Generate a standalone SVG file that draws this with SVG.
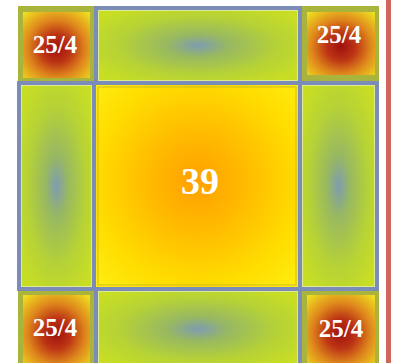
<svg xmlns="http://www.w3.org/2000/svg" width="401" height="363" viewBox="0 0 401 363">
  <defs>
    <radialGradient id="edge" cx="0.5" cy="0.5" r="0.6">
      <stop offset="0" stop-color="#7e9cb0"/>
      <stop offset="0.25" stop-color="#98b862"/>
      <stop offset="0.65" stop-color="#b6d236"/>
      <stop offset="1" stop-color="#c8de24"/>
    </radialGradient>
    <radialGradient id="corner" cx="0.5" cy="0.55" r="0.72">
      <stop offset="0" stop-color="#a0100e"/>
      <stop offset="0.3" stop-color="#bc3414"/>
      <stop offset="0.6" stop-color="#de861c"/>
      <stop offset="1" stop-color="#f0e020"/>
    </radialGradient>
    <radialGradient id="center" cx="0.5" cy="0.48" r="0.7">
      <stop offset="0" stop-color="#ffa000"/>
      <stop offset="0.35" stop-color="#ffbc00"/>
      <stop offset="0.7" stop-color="#ffdc00"/>
      <stop offset="1" stop-color="#ffee10"/>
    </radialGradient>
  </defs>
  <style>
    .frame { stroke: #7b8cb8; stroke-width: 4; }
    .hl { fill: none; stroke: #e8f0c0; stroke-width: 1; opacity: 0.7; }
    .lbl { fill: #ffffff; font-family: "Liberation Serif", "Times New Roman", serif; font-weight: bold; text-anchor: middle; }
    .small { font-size: 25px; }
    .big { font-size: 38px; }
  </style>
  <rect x="18" y="6" width="361" height="360" fill="#a9b43c"/>
  <line x1="388.5" y1="0" x2="388.5" y2="363" stroke="#cf665a" stroke-width="5"/>

  <g id="corner-tl">
    <rect x="23" y="12" width="67" height="66" fill="url(#corner)"/>
    <text class="lbl small" x="55" y="53">25/4</text>
  </g>
  <g id="corner-tr">
    <rect x="307" y="12" width="68" height="63" fill="url(#corner)"/>
    <text class="lbl small" x="339" y="43">25/4</text>
  </g>
  <g id="corner-bl">
    <rect x="23" y="295" width="67" height="70" fill="url(#corner)"/>
    <text class="lbl small" x="55" y="336">25/4</text>
  </g>
  <g id="corner-br">
    <rect x="307" y="295" width="68" height="70" fill="url(#corner)"/>
    <text class="lbl small" x="341" y="337">25/4</text>
  </g>

  <g id="edge-top">
    <rect class="frame" x="96" y="8" width="204" height="75" fill="url(#edge)"/>
    <rect class="hl" x="98.5" y="10.5" width="199" height="70"/>
  </g>
  <g id="edge-left">
    <rect class="frame" x="19" y="83" width="75" height="206" fill="url(#edge)"/>
    <rect class="hl" x="21.5" y="85.5" width="70" height="201"/>
  </g>
  <g id="edge-right">
    <rect class="frame" x="300" y="83" width="77" height="206" fill="url(#edge)"/>
    <rect class="hl" x="302.5" y="85.5" width="72" height="201"/>
  </g>
  <g id="edge-bottom">
    <rect class="frame" x="96" y="289" width="204" height="80" fill="url(#edge)"/>
    <rect class="hl" x="98.5" y="291.5" width="199" height="75"/>
  </g>

  <g id="center-cell">
    <rect class="frame" x="94" y="83" width="206" height="206" fill="url(#center)"/>
    <rect x="98" y="87" width="198" height="198" fill="none" stroke="#c9b52a" stroke-width="1.5" opacity="0.6"/>
    <text class="lbl big" x="200" y="194">39</text>
  </g>
</svg>
